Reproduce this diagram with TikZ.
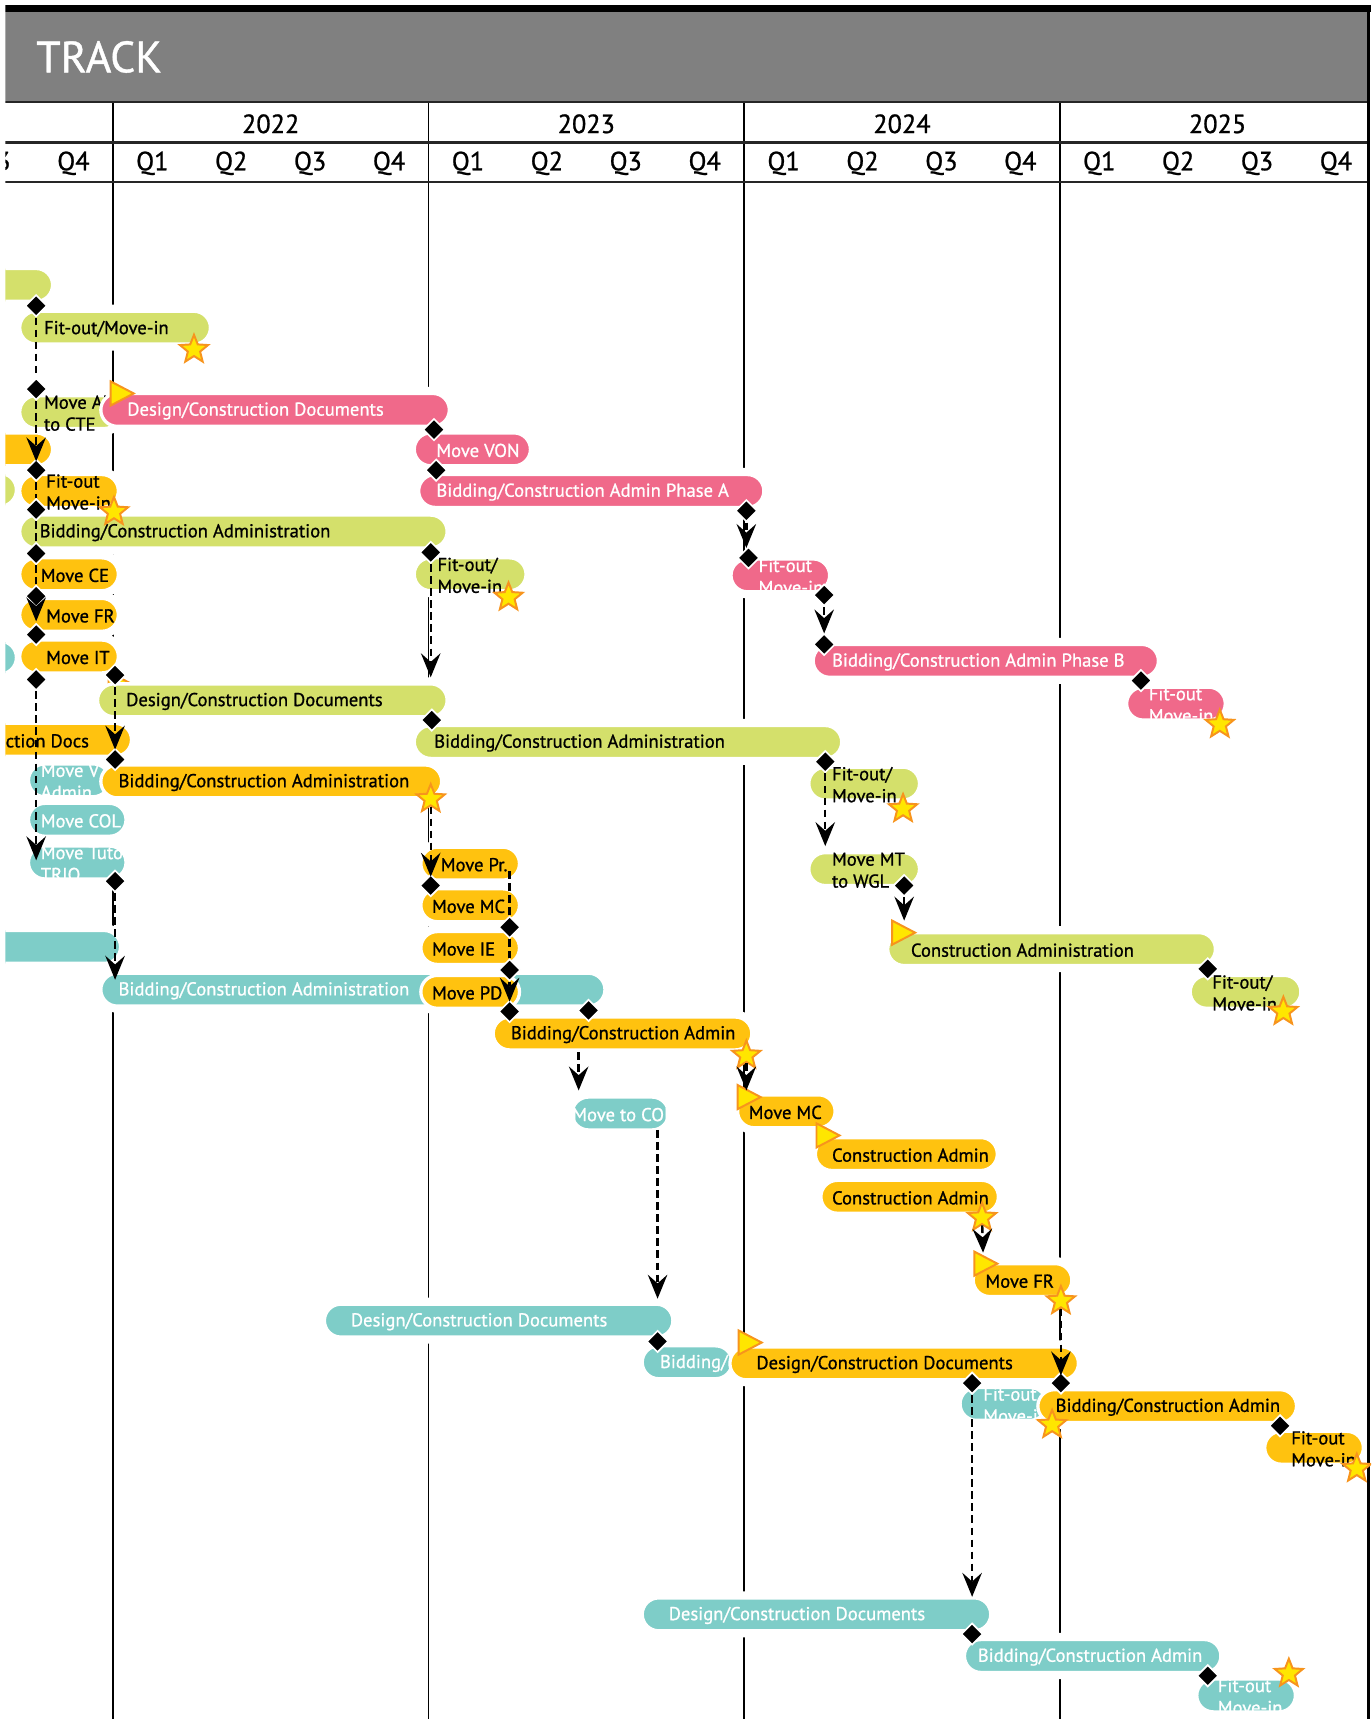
\documentclass[tikz,border=0pt]{standalone}
\usepackage{fontspec}
\setmainfont{PT Sans}
\newfontfamily\chartfam{PT Sans}[FakeBold=0.9]
\usepackage{tikz}
\usetikzlibrary{arrows.meta}
\usetikzlibrary{shapes.geometric}
\definecolor{lime}{HTML}{D4E06B}
\definecolor{rose}{HTML}{F0698A}
\definecolor{amber}{HTML}{FFC20F}
\definecolor{aqua}{HTML}{7ECDC8}
\definecolor{hdrgray}{HTML}{808080}
\definecolor{staryel}{HTML}{FFE600}
\definecolor{starorg}{HTML}{F7941D}
\newcommand{\barfont}{\chartfam\fontsize{17}{20}\selectfont}
\pgfdeclarelayer{grid}
\pgfdeclarelayer{halo}
\pgfsetlayers{grid,halo,main}
\tikzset{
  taskfill/.style={fill=#1, draw=white, line width=3pt, rounded corners=15pt},
  lbl/.style={anchor=west, inner sep=0pt, align=left, font=\barfont, text=#1},
  dia/.style={diamond, fill=black, draw=white, line width=1.5pt, minimum size=20pt, inner sep=0pt},
  milestone/.style={star, star points=5, star point ratio=2.3, fill=staryel, draw=starorg, line width=1.8pt, minimum size=27pt, inner sep=0pt},
  flag/.style={fill=staryel, draw=starorg, line width=1.8pt},
  dep/.style={draw=black, line width=2.2pt, dash pattern=on 7pt off 4pt},
  go/.style={dep, -{Stealth[length=22pt, width=18pt, inset=8pt, line width=0pt]}},
  hline/.style={line width=2pt, draw=black!85},
  hdr/.style={font=\chartfam\fontsize{24}{24}\selectfont},
}
\newcommand{\taskbar}[8]{%
  \begin{pgfonlayer}{halo}
    \fill[white, rounded corners=21pt] (#4-6,#6-21) rectangle (#5+6,#6+21);
  \end{pgfonlayer}
  \draw[taskfill=#2] (#4,#6-15) rectangle (#5,#6+15);
  \node[lbl=#3] (#1) at (#7,#6+1) {#8};
}
\newcommand{\startflag}[2]{\filldraw[flag] (#1,#2-11) -- (#1+21,#2) -- (#1,#2+11) -- cycle;}

\begin{document}
\begin{tikzpicture}[x=1pt, y=-1pt]
\useasboundingbox (0,0) rectangle (1251,1568.5);
\begin{scope}
\clip (5,0) rectangle (1251,1568.5);
% header
\fill[black] (5,5) rectangle (1251,11);
\fill[hdrgray] (5,11) rectangle (1247,92);
\node[anchor=west, inner sep=0pt, text=white, font=\chartfam\fontsize{40}{40}\selectfont] (title) at (33,52) {TRACK};
\draw[hline] (5,93) -- (1248,93);
\draw[hline] (5,130) -- (1248,130);
\draw[hline] (5,166) -- (1248,166);
\foreach \yr [count=\i from 0] in {2022,2023,2024,2025}
  \node[hdr] (y\yr) at (247+288*\i,113) {\yr};
\foreach \q [count=\i from 0] in {Q3,Q4,Q1,Q2,Q3,Q4,Q1,Q2,Q3,Q4,Q1,Q2,Q3,Q4,Q1,Q2,Q3,Q4}
  \node[hdr] (q\i) at (-5+72*\i,149) {\q};
\begin{pgfonlayer}{grid}
\foreach \x in {103,391,679,967}
  \draw[line width=1.6pt] (\x,93) -- (\x,1568.5);
\end{pgfonlayer}
\draw[line width=3pt] (1248.5,5) -- (1248.5,1568.5);

% bars
\taskbar{gA}{lime}{black}{-40}{48}{260}{0}{}
\taskbar{gB}{lime}{black}{18}{192}{299}{40}{Fit-out/Move-in}
\taskbar{gC}{lime}{black}{18}{110}{376}{40}{Move AKL\\to CTE}
\taskbar{pA}{rose}{white}{92}{410}{374}{116}{Design/Construction Documents}
\taskbar{oA}{amber}{black}{-40}{48}{410}{0}{}
\taskbar{pB}{rose}{white}{378}{484}{410}{398}{Move VON}
\taskbar{gD}{lime}{black}{-40}{15}{447}{0}{}
\taskbar{oB}{amber}{black}{18}{108}{448}{42}{Fit-out\\Move-in}
\taskbar{pC}{rose}{white}{382}{697}{448}{398}{Bidding/Construction Admin Phase A}
\taskbar{gE}{lime}{black}{18}{408}{485}{36}{Bidding/Construction Administration}
\taskbar{oC}{amber}{black}{18}{108}{524}{37}{Move CE}
\taskbar{gF}{lime}{black}{378}{480}{524}{399}{Fit-out/\\Move-in}
\taskbar{pD}{rose}{white}{667}{757}{525}{692}{Fit-out\\Move-in}
\taskbar{oD}{amber}{black}{18}{108}{561}{42}{Move FR}
\taskbar{aA}{aqua}{white}{-40}{15}{600}{0}{}
\taskbar{oE}{amber}{black}{18}{108}{599}{42}{Move IT}
\taskbar{pE}{rose}{white}{742}{1057}{603}{759}{Bidding/Construction Admin Phase B}
\startflag{99}{624}
\taskbar{gG}{lime}{black}{89}{408}{639}{115}{Design/Construction Documents}
\taskbar{pF}{rose}{white}{1028}{1118}{642}{1048}{Fit-out\\Move-in}
\taskbar{oF}{amber}{black}{-40}{120}{675}{5}{ction Docs}
\taskbar{gH}{lime}{black}{378}{768}{677}{396}{Bidding/Construction Administration}
\taskbar{aB}{aqua}{white}{26}{100}{712}{37}{Move V\\Admin}
\taskbar{oG}{amber}{black}{92}{403}{713}{108}{Bidding/Construction Administration}
\taskbar{gI}{lime}{black}{738}{839}{715}{759}{Fit-out/\\Move-in}
\taskbar{aC}{aqua}{white}{26}{115}{748}{37}{Move COL}
\taskbar{aD}{aqua}{white}{26}{115}{787}{37}{Move Tutor\\TRIO}
\taskbar{oH}{amber}{black}{384}{474}{788}{402}{Move Pr.}
\taskbar{gJ}{lime}{black}{738}{839}{793}{759}{Move MT\\to WGL}
\taskbar{oI}{amber}{black}{384}{474}{826}{394}{Move MC}
\taskbar{aE}{aqua}{white}{-40}{110}{864}{0}{}
\taskbar{oJ}{amber}{black}{384}{474}{865}{394}{Move IE}
\taskbar{gK}{lime}{black}{810}{1109}{866}{831}{Construction Administration}
\taskbar{aF}{aqua}{white}{92}{552}{903}{108}{Bidding/Construction Administration}
\taskbar{oK}{amber}{black}{384}{474}{905}{394}{Move PD}
\taskbar{gL}{lime}{black}{1086}{1187}{905}{1106}{Fit-out/\\Move-in}
\taskbar{oL}{amber}{black}{450}{686}{943}{466}{Bidding/Construction Admin}
\taskbar{aG}{aqua}{white}{522}{610}{1016}{522}{Move to COL}
\taskbar{oM}{amber}{black}{673}{762}{1014}{683}{Move MC}
\taskbar{oN}{amber}{black}{744}{910}{1053}{759}{Construction Admin}
\taskbar{oO}{amber}{black}{749}{911}{1092}{759}{Construction Admin}
\taskbar{oP}{amber}{black}{888}{978}{1168}{899}{Move FR}
\taskbar{aH}{aqua}{white}{296}{614}{1205}{320}{Design/Construction Documents}
\taskbar{aI}{aqua}{white}{586}{668}{1243}{602}{Bidding/}
\taskbar{oQ}{amber}{black}{666}{984}{1244}{690}{Design/Construction Documents}
\taskbar{aJ}{aqua}{white}{876}{955}{1281}{897}{Fit-out\\Move-in}
\taskbar{oR}{amber}{black}{947}{1183}{1283}{963}{Bidding/Construction Admin}
\taskbar{oS}{amber}{black}{1154}{1244}{1321}{1178}{Fit-out\\Move-in}
\taskbar{aK}{aqua}{white}{586}{904}{1473}{610}{Design/Construction Documents}
\taskbar{aL}{aqua}{white}{880}{1114}{1511}{892}{Bidding/Construction Admin}
\taskbar{aM}{aqua}{white}{1092}{1182}{1547}{1111}{Fit-out\\Move-in}

% start flags
\startflag{101}{359}
\startflag{814}{851}
\startflag{673}{1001}
\startflag{745}{1036}
\startflag{889}{1153}
\startflag{674}{1225}

% links
\node[dia] (d1) at (33,279) {};
\node[dia] (d2) at (33,355) {};
\node[dia] (d3) at (33,429) {};
\node[dia] (d4) at (33,465) {};
\node[dia] (d5) at (33,505) {};
\node[dia] (d6) at (33,544) {};
\node[dia] (d7) at (33,579) {};
\node[dia] (d8) at (33,620) {};
\node[dia] (d9) at (396,392) {};
\node[dia] (d10) at (398,429) {};
\node[dia] (d11) at (681,466) {};
\node[dia] (d12) at (683,509) {};
\node[dia] (d13) at (752,543) {};
\node[dia] (d14) at (752,588) {};
\node[dia] (d15) at (1041,621) {};
\node[dia] (d16) at (393,504) {};
\node[dia] (d17) at (394,657) {};
\node[dia] (d18) at (753,695) {};
\node[dia] (d19) at (825,808) {};
\node[dia] (d20) at (1102,884) {};
\node[dia] (d21) at (105,616) {};
\node[dia] (d22) at (105,693) {};
\node[dia] (d23) at (393,808) {};
\node[dia] (d24) at (465,846) {};
\node[dia] (d25) at (465,885) {};
\node[dia] (d26) at (465,923) {};
\node[dia] (d27) at (105,804) {};
\node[dia] (d28) at (537,922) {};
\node[dia] (d29) at (600,1224) {};
\node[dia] (d30) at (968,1262) {};
\node[dia] (d31) at (887,1262) {};
\node[dia] (d32) at (1168,1301) {};
\node[dia] (d33) at (887,1491) {};
\node[dia] (d34) at (1102,1529) {};

\node[milestone] (s1) at (177,319) {};
\node[milestone] (s2) at (104,467) {};
\node[milestone] (s3) at (464,545) {};
\node[milestone] (s4) at (1113,661) {};
\node[milestone] (s5) at (393,729) {};
\node[milestone] (s6) at (824,738) {};
\node[milestone] (s7) at (1171,923) {};
\node[milestone] (s8) at (681,963) {};
\node[milestone] (s9) at (896,1111) {};
\node[milestone] (s10) at (968,1187) {};
\node[milestone] (s11) at (960,1300) {};
\node[milestone] (s12) at (1238,1340) {};
\node[milestone] (s13) at (1176,1527) {};

\coordinate (a1) at (33,421);
\coordinate (a2) at (33,567);
\coordinate (a3) at (33,785);
\coordinate (a4) at (681,500);
\coordinate (a5) at (752,578);
\coordinate (a6) at (393,618);
\coordinate (a7) at (753,772);
\coordinate (a8) at (825,840);
\coordinate (a9) at (105,684);
\coordinate (a10) at (393,800);
\coordinate (a11) at (465,914);
\coordinate (a12) at (105,894);
\coordinate (a13) at (528,995);
\coordinate (a14) at (681,995);
\coordinate (a15) at (600,1185);
\coordinate (a16) at (897,1143);
\coordinate (a17) at (968,1255);
\coordinate (a18) at (887,1457);
\coordinate (c1) at (465,795);
\coordinate (c2) at (528,960);
\coordinate (c3) at (600,1031);

\draw[dep] (d1) -- (d2);
\draw[go] (d2) -- (a1);
\draw[dep] (d3) -- (d4);
\draw[dep] (d4) -- (d5);
\draw[dep] (d5) -- (d6);
\draw[go] (d6) -- (a2);
\draw[go] (d8) -- (a3);
\draw[go] (d11) -- (a4);
\draw[go] (d13) -- (a5);
\draw[go] (d16) -- (a6);
\draw[go] (d18) -- (a7);
\draw[go] (d19) -- (a8);
\draw[go] (d21) -- (a9);
\draw[go] (s5) -- (a10);
\draw[dep] (c1) -- (d24);
\draw[dep] (d24) -- (d25);
\draw[go] (d25) -- (a11);
\draw[go] (d27) -- (a12);
\draw[go] (c2) -- (a13);
\draw[go] (s8) -- (a14);
\draw[go] (c3) -- (a15);
\draw[go] (s9) -- (a16);
\draw[go] (s10) -- (a17);
\draw[go] (d31) -- (a18);
\end{scope}
\end{tikzpicture}
\end{document}
